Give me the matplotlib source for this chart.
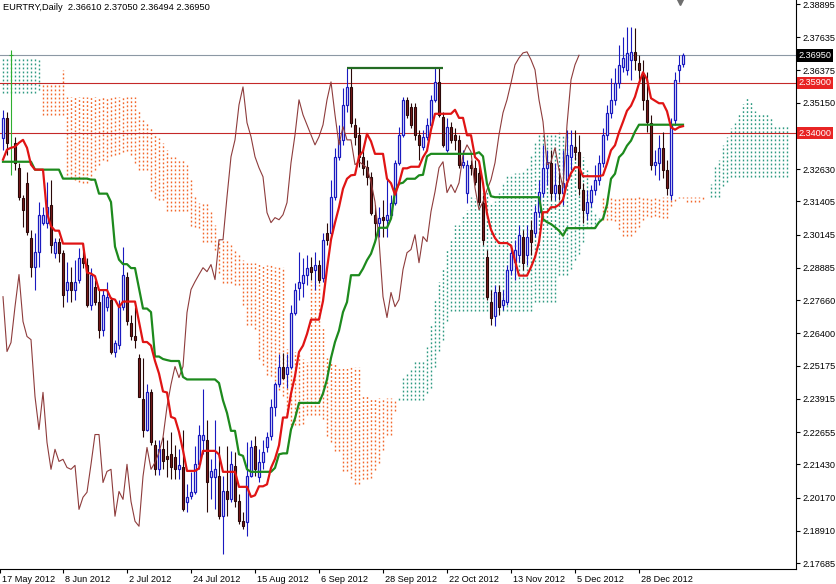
import matplotlib
matplotlib.use("Agg")
import matplotlib.pyplot as plt
from matplotlib.patches import Rectangle
import matplotlib.transforms as mtransforms
import numpy as np

plt.rcParams['font.family'] = ['Liberation Sans', 'DejaVu Sans']

title = "EURTRY,Daily  2.36610 2.37050 2.36494 2.36950"

opens = [2.3382, 2.3458, 2.3697, 2.3363, 2.3268, 2.3155, 2.3211, 2.3003, 2.2893, 2.2950,
         2.3060, 2.3060, 2.3128, 2.2946, 2.2988, 2.2946, 2.2806, 2.2836, 2.2806, 2.2844,
         2.2927, 2.2901, 2.2749, 2.2817, 2.2760, 2.2654, 2.2738, 2.2768, 2.2571, 2.2597,
         2.2738, 2.2855, 2.2681, 2.2628, 2.2548, 2.2389, 2.2275, 2.2416, 2.2218, 2.2124,
         2.2200, 2.2173, 2.2181, 2.2169, 2.2124, 2.2131, 2.1999, 2.2021, 2.2037, 2.2143,
         2.2237, 2.2237, 2.2093, 2.2093, 2.2097, 2.1946, 2.2040, 2.2010, 2.2135, 2.2002,
         2.1927, 2.1923, 2.2097, 2.2211, 2.2093, 2.2150, 2.2207, 2.2249, 2.2362, 2.2446,
         2.2514, 2.2484, 2.2514, 2.2719, 2.2813, 2.2832, 2.2863, 2.2893, 2.2882, 2.2901,
         2.2851, 2.3022, 2.3022, 2.3158, 2.3310, 2.3374, 2.3507, 2.3575, 2.3431, 2.3393,
         2.3310, 2.3272, 2.3234, 2.3090, 2.3060, 2.3083, 2.3071, 2.3090, 2.3136, 2.3287,
         2.3393, 2.3526, 2.3499, 2.3499, 2.3393, 2.3348, 2.3386, 2.3431, 2.3526, 2.3594,
         2.3462, 2.3337, 2.3424, 2.3393, 2.3374, 2.3280, 2.3174, 2.3280, 2.3268, 2.3249,
         2.3136, 2.2931, 2.2760, 2.2704, 2.2798, 2.2749, 2.2757, 2.2882, 2.2912, 2.2939,
         2.3007, 2.2939, 2.3033, 2.3022, 2.3102, 2.3174, 2.3268, 2.3287, 2.3174, 2.3204,
         2.3174, 2.3223, 2.3310, 2.3348, 2.3329, 2.3185, 2.3098, 2.3139, 2.3185, 2.3223,
         2.3287, 2.3393, 2.3477, 2.3526, 2.3590, 2.3651, 2.3640, 2.3678, 2.3708, 2.3666,
         2.3621, 2.3526, 2.3439, 2.3280, 2.3287, 2.3344, 2.3261, 2.3166, 2.3450, 2.3640,
         2.3661]

highs = [2.3488, 2.3481, 2.3716, 2.3386, 2.3287, 2.3166, 2.3253, 2.3033, 2.3022, 2.3139,
         2.3120, 2.3215, 2.3223, 2.3003, 2.3003, 2.2958, 2.2912, 2.2893, 2.2920, 2.2965,
         2.2984, 2.2927, 2.2889, 2.2844, 2.2806, 2.2806, 2.2836, 2.2779, 2.2616, 2.2768,
         2.2969, 2.2874, 2.2711, 2.2738, 2.2560, 2.2548, 2.2446, 2.2427, 2.2237, 2.2237,
         2.2245, 2.2237, 2.2264, 2.2218, 2.2200, 2.2275, 2.2067, 2.2112, 2.2211, 2.2294,
         2.2427, 2.2313, 2.2162, 2.2313, 2.2211, 2.2097, 2.2211, 2.2192, 2.2188, 2.2029,
         2.1961, 2.2226, 2.2237, 2.2249, 2.2200, 2.2237, 2.2264, 2.2389, 2.2457, 2.2560,
         2.2567, 2.2560, 2.2749, 2.2832, 2.2950, 2.2927, 2.2939, 2.2931, 2.2950, 2.2920,
         2.3022, 2.3060, 2.3223, 2.3344, 2.3431, 2.3571, 2.3647, 2.3647, 2.3458, 2.3424,
         2.3337, 2.3299, 2.3253, 2.3128, 2.3120, 2.3147, 2.3230, 2.3166, 2.3299, 2.3424,
         2.3537, 2.3537, 2.3515, 2.3515, 2.3412, 2.3412, 2.3458, 2.3545, 2.3647, 2.3647,
         2.3481, 2.3458, 2.3443, 2.3420, 2.3393, 2.3337, 2.3299, 2.3299, 2.3299, 2.3280,
         2.3166, 2.2958, 2.2806, 2.2825, 2.2825, 2.2806, 2.2901, 2.2976, 2.2995, 2.3052,
         2.3033, 2.3052, 2.3071, 2.3128, 2.3223, 2.3355, 2.3337, 2.3337, 2.3287, 2.3268,
         2.3337, 2.3412, 2.3412, 2.3412, 2.3393, 2.3211, 2.3185, 2.3204, 2.3280, 2.3318,
         2.3420, 2.3507, 2.3609, 2.3647, 2.3734, 2.3765, 2.3803, 2.3803, 2.3799, 2.3697,
         2.3678, 2.3632, 2.3469, 2.3337, 2.3393, 2.3405, 2.3299, 2.3458, 2.3632, 2.3697,
         2.3705]

lows = [2.3337, 2.3318, 2.3242, 2.3261, 2.3147, 2.3045, 2.3014, 2.2855, 2.2806, 2.2893,
        2.3052, 2.3041, 2.2946, 2.2927, 2.2912, 2.2738, 2.2757, 2.2757, 2.2768, 2.2832,
        2.2889, 2.2738, 2.2730, 2.2749, 2.2624, 2.2628, 2.2723, 2.2560, 2.2552, 2.2579,
        2.2730, 2.2673, 2.2616, 2.2586, 2.2397, 2.2245, 2.2268, 2.2218, 2.2101, 2.2101,
        2.2124, 2.2093, 2.2086, 2.2086, 2.2086, 2.1965, 2.1961, 2.2010, 2.2029, 2.2124,
        2.2181, 2.1961, 2.2010, 2.1972, 2.1934, 2.1802, 2.1946, 2.1999, 2.1980, 2.1915,
        2.1896, 2.1870, 2.2093, 2.2097, 2.2074, 2.2124, 2.2188, 2.2237, 2.2325, 2.2438,
        2.2465, 2.2434, 2.2503, 2.2711, 2.2768, 2.2776, 2.2825, 2.2844, 2.2806, 2.2832,
        2.2836, 2.2976, 2.3014, 2.3147, 2.3299, 2.3355, 2.3481, 2.3424, 2.3355, 2.3272,
        2.3242, 2.3204, 2.3090, 2.2995, 2.3007, 2.3007, 2.3007, 2.3079, 2.3128, 2.3280,
        2.3386, 2.3458, 2.3420, 2.3374, 2.3299, 2.3337, 2.3374, 2.3420, 2.3518, 2.3462,
        2.3348, 2.3329, 2.3363, 2.3337, 2.3268, 2.3268, 2.3136, 2.3242, 2.3204, 2.3128,
        2.2976, 2.2768, 2.2673, 2.2666, 2.2711, 2.2730, 2.2749, 2.2863, 2.2844, 2.2912,
        2.2882, 2.2901, 2.2939, 2.3007, 2.3083, 2.3158, 2.3204, 2.3147, 2.3147, 2.3147,
        2.3128, 2.3204, 2.3261, 2.3299, 2.3166, 2.3060, 2.3071, 2.3120, 2.3166, 2.3204,
        2.3272, 2.3374, 2.3458, 2.3507, 2.3571, 2.3632, 2.3621, 2.3602, 2.3640, 2.3602,
        2.3488, 2.3405, 2.3261, 2.3242, 2.3223, 2.3230, 2.3166, 2.3147, 2.3431, 2.3594,
        2.3649]

closes = [2.3458, 2.3363, 2.3697, 2.3287, 2.3158, 2.3109, 2.3026, 2.2893, 2.2950, 2.3090,
          2.3090, 2.3120, 2.2976, 2.2988, 2.2946, 2.2787, 2.2836, 2.2806, 2.2836, 2.2927,
          2.2908, 2.2749, 2.2863, 2.2760, 2.2654, 2.2787, 2.2779, 2.2571, 2.2605, 2.2741,
          2.2863, 2.2685, 2.2628, 2.2616, 2.2400, 2.2275, 2.2416, 2.2226, 2.2124, 2.2200,
          2.2154, 2.2162, 2.2131, 2.2124, 2.2139, 2.1972, 2.2018, 2.2037, 2.2143, 2.2256,
          2.2256, 2.2074, 2.2116, 2.2124, 2.1946, 2.2040, 2.2010, 2.2143, 2.2002, 2.1927,
          2.1908, 2.2097, 2.2207, 2.2124, 2.2150, 2.2188, 2.2245, 2.2362, 2.2446, 2.2514,
          2.2472, 2.2514, 2.2719, 2.2806, 2.2836, 2.2863, 2.2889, 2.2874, 2.2901, 2.2844,
          2.2995, 2.2995, 2.3158, 2.3310, 2.3374, 2.3507, 2.3575, 2.3439, 2.3386, 2.3310,
          2.3268, 2.3234, 2.3098, 2.3060, 2.3079, 2.3071, 2.3090, 2.3136, 2.3287, 2.3393,
          2.3526, 2.3469, 2.3431, 2.3393, 2.3355, 2.3386, 2.3431, 2.3526, 2.3594, 2.3469,
          2.3355, 2.3424, 2.3374, 2.3374, 2.3280, 2.3291, 2.3280, 2.3268, 2.3215, 2.3139,
          2.2995, 2.2779, 2.2700, 2.2795, 2.2741, 2.2768, 2.2882, 2.2946, 2.2958, 2.3014,
          2.2908, 2.3007, 2.2988, 2.3102, 2.3177, 2.3268, 2.3291, 2.3174, 2.3204, 2.3174,
          2.3211, 2.3318, 2.3355, 2.3329, 2.3192, 2.3109, 2.3139, 2.3185, 2.3223, 2.3287,
          2.3393, 2.3477, 2.3526, 2.3590, 2.3659, 2.3685, 2.3704, 2.3708, 2.3678, 2.3640,
          2.3526, 2.3443, 2.3280, 2.3291, 2.3344, 2.3261, 2.3192, 2.3431, 2.3602, 2.3659,
          2.3695]

# indicator values before enough history exists
tenkan_head = [2.3299, 2.3337, 2.3344, 2.3348, 2.3363, 2.3374, 2.3344, 2.3280]
kijun_head = [2.3291] * 8
span_a_head = [2.3685] * 9 + [2.3678] + [2.3469] * 6 + [
    2.3242, 2.3230, 2.3223, 2.3215, 2.3211, 2.3211, 2.3223, 2.3261, 2.3280, 2.3299]
span_b_head = [2.3553] * 9 + [2.3564] + [2.3590] * 5 + [2.3640] + [2.3537] * 18 + [
    2.3488, 2.3450, 2.3439, 2.3420, 2.3401, 2.3382, 2.3363, 2.3337, 2.3310, 2.3310,
    2.3299, 2.3299, 2.3280, 2.3223, 2.3166, 2.3136, 2.3136, 2.3136, 2.3109, 2.3052,
    2.2995, 2.2995, 2.2995, 2.2976, 2.2958, 2.2939, 2.2920, 2.2908, 2.2908, 2.2908,
    2.2908, 2.2901, 2.2901, 2.2901, 2.2893, 2.2893, 2.2893, 2.2579, 2.2579, 2.2570,
    2.2560, 2.2541, 2.2533]

date_labels = ["17 May 2012", "8 Jun 2012", "2 Jul 2012", "24 Jul 2012", "15 Aug 2012",
               "6 Sep 2012", "28 Sep 2012", "22 Oct 2012", "13 Nov 2012", "5 Dec 2012",
               "28 Dec 2012"]
price_ticks = [2.38895, 2.37635, 2.36375, 2.35150, 2.32630, 2.31405, 2.30145, 2.28885,
               2.27660, 2.26400, 2.25175, 2.23915, 2.22655, 2.21430, 2.20170, 2.18910,
               2.17685]
bid = 2.36950
levels = [2.35900, 2.34000]
trend_start, trend_end = 86, 110

o = np.array(opens)
h = np.array(highs)
l = np.array(lows)
c = np.array(closes)
n = len(c)

# Ichimoku (9, 26, 52)
tenkan = np.empty(n)
kijun = np.empty(n)
tenkan[:8] = tenkan_head
kijun[:8] = kijun_head
for i in range(8, n):
    tenkan[i] = (h[i - 8:i + 1].max() + l[i - 8:i + 1].min()) / 2
    s = max(0, i - 25)
    kijun[i] = (h[s:i + 1].max() + l[s:i + 1].min()) / 2

span_a = np.empty(n + 26)
span_b = np.empty(n + 26)
span_a[:26] = span_a_head
span_a[26:] = (tenkan + kijun) / 2
span_b[:77] = span_b_head
for j in range(77, n + 26):
    k = j - 26
    span_b[j] = (h[k - 51:k + 1].max() + l[k - 51:k + 1].min()) / 2

fig = plt.figure(figsize=(8.37, 5.84), dpi=100)
ax = fig.add_axes([0, 15 / 584, 796 / 837, 569 / 584])

# cloud, drawn as dotted columns
idx = np.arange(n + 26)
up = span_a >= span_b
dots = (0, (1.3, 1.6))
ax.vlines(idx[up], span_b[up], span_a[up], colors="#2e9a82", linestyles=dots,
          lw=1.0, zorder=1)
ax.vlines(idx[~up], span_a[~up], span_b[~up], colors="#f2682c", linestyles=dots,
          lw=1.0, zorder=1)

# horizontal lines
ax.axhline(bid, color="#8c98a4", lw=0.8, zorder=2)
for lv in levels:
    ax.axhline(lv, color="#c42828", lw=0.8, zorder=2)

# candles
blue = "#1a1ac0"
maroon = "#7c1c1c"
dark = "#2a0808"
for i in range(n):
    if o[i] == c[i]:
        ax.vlines(i, l[i], h[i], color="#2fae2f", lw=0.8, zorder=3)
        ax.hlines(o[i], i - 0.6, i + 0.6, color="#2fae2f", lw=0.8, zorder=3)
    elif c[i] > o[i]:
        ax.vlines(i, l[i], h[i], color=blue, lw=0.8, zorder=3)
        ax.add_patch(Rectangle((i - 0.32, o[i]), 0.64, c[i] - o[i], fc="white", ec=blue,
                               lw=0.9, zorder=4))
    else:
        ax.vlines(i, l[i], h[i], color=dark, lw=0.8, zorder=3)
        ax.add_patch(Rectangle((i - 0.32, c[i]), 0.64, o[i] - c[i], fc=maroon, ec=dark,
                               lw=0.8, zorder=4))

# ichimoku lines
ax.plot(np.arange(n - 26), c[26:], color="#8e3c3c", lw=0.8, zorder=5)
ax.plot(np.arange(n), kijun, color="#1d8a1d", lw=1.6, zorder=6)
ax.plot(np.arange(n), tenkan, color="#e01414", lw=1.6, zorder=6)

# trend line across the two highs
ax.hlines(h[trend_start], trend_start, trend_end, color="#236b23", lw=1.6, zorder=6)

ax.set_xlim(-0.75, 198.25)
ax.set_ylim(2.17458, 2.39047)

for side in ["left", "top"]:
    ax.spines[side].set_visible(False)
for side in ["right", "bottom"]:
    ax.spines[side].set_color("black")
    ax.spines[side].set_linewidth(0.8)

ax.yaxis.tick_right()
ax.set_yticks(price_ticks)
ax.set_yticklabels(["%.5f" % v for v in price_ticks])
ax.tick_params(axis="y", length=3, width=0.8, pad=2, labelsize=6.6, colors="black")

ax.set_xticks([-0.75] + [15 + 16 * k for k in range(10)])
ax.set_xticklabels(date_labels)
ax.tick_params(axis="x", length=3, width=0.8, pad=1.5, labelsize=6.6)
shift = mtransforms.ScaledTranslation(2 / 100, 0, fig.dpi_scale_trans)
for lab in ax.get_xticklabels():
    lab.set_horizontalalignment("left")
    lab.set_transform(lab.get_transform() + shift)

# price labels on the axis
ytrans = ax.get_yaxis_transform()
ax.text(1.003, bid, "%.5f" % bid, transform=ytrans, ha="left", va="center", fontsize=6.6,
        color="white", bbox=dict(boxstyle="square,pad=0.2", fc="black", ec="none"),
        clip_on=False, zorder=10)
for lv in levels:
    ax.text(1.003, lv, "%.5f" % lv, transform=ytrans, ha="left", va="center", fontsize=6.6,
            color="white", bbox=dict(boxstyle="square,pad=0.2", fc="#e82424", ec="none"),
            clip_on=False, zorder=10)

ax.text(0.004, 0.995, title, transform=ax.transAxes, ha="left", va="top", fontsize=6.7,
        color="black", zorder=10)

# chart shift marker
ax.plot([169.3], [2.3898], marker="v", color="#6e6e6e", ms=5, clip_on=False, zorder=10)

fig.savefig("out.png", dpi=100)
